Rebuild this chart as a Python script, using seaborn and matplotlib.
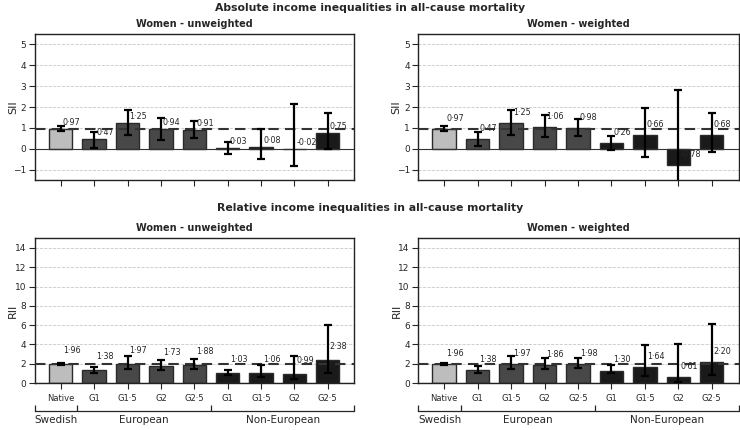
import numpy as np
import pandas as pd
import seaborn as sns
import matplotlib
import matplotlib.pyplot as plt
matplotlib.use('Agg')

sns.set_theme(style="ticks")
plt.rcParams['font.family'] = ['DejaVu Sans']

# categories
keys = ['Native', 'EU G1', 'EU G1.5', 'EU G2', 'EU G2.5', 'NE G1', 'NE G1.5', 'NE G2', 'NE G2.5']
tick_labels = ['Native', 'G1', 'G1·5', 'G2', 'G2·5', 'G1', 'G1·5', 'G2', 'G2·5']
groups = ['Swedish', 'European', 'European', 'European', 'European',
          'Non-European', 'Non-European', 'Non-European', 'Non-European']
group_colors = {'Swedish': '#bdbdbd', 'European': '#484848', 'Non-European': '#1a1a1a'}

# SII - women unweighted
sii_unw = [0.97, 0.47, 1.25, 0.94, 0.91, 0.03, 0.08, -0.02, 0.75]
sii_unw_lo = [0.87, 0.05, 0.68, 0.42, 0.50, -0.24, -0.48, -0.82, -0.03]
sii_unw_hi = [1.09, 0.79, 1.85, 1.50, 1.34, 0.32, 0.95, 2.17, 1.73]

# SII - women weighted
sii_w = [0.97, 0.47, 1.25, 1.06, 0.98, 0.26, 0.66, -0.78, 0.68]
sii_w_lo = [0.87, 0.13, 0.68, 0.56, 0.61, -0.05, -0.39, -2.40, -0.15]
sii_w_hi = [1.09, 0.82, 1.85, 1.60, 1.42, 0.61, 1.97, 2.80, 1.73]

# RII - women unweighted
rii_unw = [1.96, 1.38, 1.97, 1.73, 1.88, 1.03, 1.06, 0.99, 2.38]
rii_unw_lo = [1.84, 1.07, 1.45, 1.34, 1.45, 0.83, 0.59, 0.41, 1.00]
rii_unw_hi = [2.09, 1.69, 2.76, 2.38, 2.52, 1.38, 1.90, 2.80, 5.97]

# RII - women weighted
rii_w = [1.96, 1.38, 1.97, 1.86, 1.98, 1.30, 1.64, 0.61, 2.20]
rii_w_lo = [1.84, 1.07, 1.45, 1.45, 1.52, 1.10, 0.76, 0.07, 0.83]
rii_w_hi = [2.09, 1.79, 2.83, 2.55, 2.62, 1.90, 3.93, 4.05, 6.14]


def panel(ax, vals, lo, hi, title, ylabel, ylim, yticks, offset, bottom_row):
    df = pd.DataFrame({'key': keys, 'value': vals, 'group': groups})
    sns.barplot(data=df, x='key', y='value', hue='group', palette=group_colors,
                dodge=False, width=0.7, edgecolor='#2a2a2a', linewidth=1,
                legend=False, ax=ax, zorder=2)
    pos = np.arange(len(keys))
    v = np.array(vals)
    ax.errorbar(pos, v, yerr=[v - np.array(lo), np.array(hi) - v], fmt='none',
                ecolor='black', elinewidth=1.6, capsize=3, capthick=1.6, zorder=4)
    ax.axhline(0, color='#333333', lw=0.8, zorder=3)
    ax.axhline(vals[0], color='#333333', lw=1.5, ls=(0, (5, 3)), zorder=3)
    for p, val in zip(pos, vals):
        ax.text(p + 0.06, val + offset, f"{val:.2f}".replace('.', '·'),
                fontsize=5.8, ha='left', va='center', zorder=5)
    ax.set_xlim(-0.78, 8.8)
    ax.set_ylim(*ylim)
    ax.set_yticks(yticks)
    ax.yaxis.grid(True, ls='--', lw=0.6, color='#c8c8c8', zorder=0)
    ax.set_axisbelow(True)
    ax.set_title(title, fontsize=7, fontweight='bold', pad=5)
    ax.set_ylabel(ylabel, fontsize=8)
    ax.yaxis.set_label_coords(-0.052, 0.5)
    ax.set_xlabel('')
    ax.tick_params(axis='y', labelsize=6.5, length=4, width=0.8, pad=2)
    ax.tick_params(axis='x', length=4, width=0.8)
    for s in ax.spines.values():
        s.set_linewidth(1.0)
        s.set_color('#222222')
    if bottom_row:
        ax.set_xticks(pos)
        ax.set_xticklabels(tick_labels, fontsize=6)
        ax2 = ax.twiny()
        ax2.set_xlim(ax.get_xlim())
        ax2.xaxis.set_ticks_position('bottom')
        ax2.xaxis.set_label_position('bottom')
        ax2.spines['bottom'].set_position(('outward', 20))
        for sp in ['top', 'left', 'right']:
            ax2.spines[sp].set_visible(False)
        ax2.spines['bottom'].set_linewidth(0.9)
        ax2.set_xticks([-0.78, 0.5, 4.5, 8.8])
        ax2.set_xticklabels(['', '', '', ''])
        ax2.tick_params(axis='x', which='major', direction='in', length=4, width=0.9)
        ax2.set_xticks([-0.14, 2.5, 6.65], minor=True)
        ax2.set_xticklabels(['Swedish', 'European', 'Non-European'], minor=True, fontsize=7.5)
        ax2.tick_params(axis='x', which='minor', length=0, pad=3)
    else:
        ax.set_xticks(pos)
        ax.set_xticklabels([''] * len(pos))


fig = plt.figure(figsize=(7.4, 4.3), dpi=100)
ax1 = fig.add_axes([0.047, 0.581, 0.432, 0.34])
ax2 = fig.add_axes([0.565, 0.581, 0.433, 0.34])
ax3 = fig.add_axes([0.047, 0.109, 0.432, 0.337])
ax4 = fig.add_axes([0.565, 0.109, 0.433, 0.337])

panel(ax1, sii_unw, sii_unw_lo, sii_unw_hi, 'Women - unweighted', 'SII',
      (-1.5, 5.5), [-1, 0, 1, 2, 3, 4, 5], 0.3, False)
panel(ax2, sii_w, sii_w_lo, sii_w_hi, 'Women - weighted', 'SII',
      (-1.5, 5.5), [-1, 0, 1, 2, 3, 4, 5], 0.5, False)
panel(ax3, rii_unw, rii_unw_lo, rii_unw_hi, 'Women - unweighted', 'RII',
      (0, 15), [0, 2, 4, 6, 8, 10, 12, 14], 1.4, True)
panel(ax4, rii_w, rii_w_lo, rii_w_hi, 'Women - weighted', 'RII',
      (0, 15), [0, 2, 4, 6, 8, 10, 12, 14], 1.1, True)

fig.text(0.5, 0.982, 'Absolute income inequalities in all-cause mortality',
         ha='center', va='center', fontsize=7.8, fontweight='bold')
fig.text(0.5, 0.516, 'Relative income inequalities in all-cause mortality',
         ha='center', va='center', fontsize=7.8, fontweight='bold')

fig.savefig('out.png', dpi=100)
